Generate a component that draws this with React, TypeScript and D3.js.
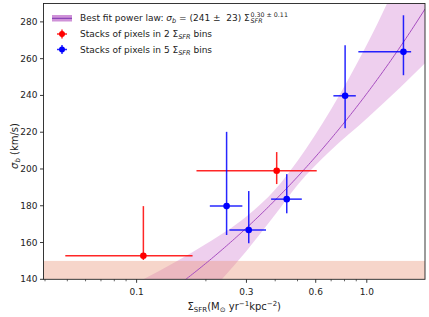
import { useLayoutEffect, useRef, useState } from "react";
import { area, curveMonotoneX, line, scaleLinear, scaleLog } from "d3";

const W = 429;
const H = 317;
const margin = { top: 3.5, right: 4, bottom: 37.7, left: 43.5 };
const width = W - margin.left - margin.right;
const height = H - margin.top - margin.bottom;
const font = "DejaVu Sans";

// stacks in 2 bins (red)
const redX = [0.107, 0.406];
const redY = [152.8, 199.0];
const redXLo = [0.049, 0.182];
const redXHi = [0.175, 0.606];
const redYLo = [150.5, 191.8];
const redYHi = [179.8, 209.2];

// stacks in 5 bins (blue)
const blueX = [0.246, 0.307, 0.449, 0.805, 1.443];
const blueY = [179.8, 166.8, 183.6, 239.8, 263.7];
const blueXLo = [0.208, 0.253, 0.384, 0.716, 0.919];
const blueXHi = [0.288, 0.365, 0.522, 0.896, 1.558];
const blueYLo = [164.1, 159.6, 175.9, 222.1, 251.0];
const blueYHi = [220.2, 188.0, 197.2, 267.3, 283.6];

// best fit sigma_b = A * S^b
const fitA = 241;
const fitB = 0.3;

// uncertainty band
const bandX = [0.1, 0.15, 0.2, 0.3, 0.4, 0.5, 0.7, 1.0, 1.4, 1.8];
const bandLo = [97.5, 115.9, 130.8, 155.4, 175.2, 191.3, 210.3, 227.5, 244.5, 257.8];
const bandHi = [138.1, 149.9, 159.2, 174.2, 188.9, 204.4, 232.5, 267.5, 305.9, 338];

// shaded floor
const floorLo = 140;
const floorHi = 150;

const xDomain = [0.0394, 1.79];
const yDomain = [140, 290];
const yTicks = [140, 160, 180, 200, 220, 240, 260, 280];
const xTicks = [0.1, 0.3, 0.6, 1.0];
const xTickLabels = ["0.1", "0.3", "0.6", "1.0"];

function FitLegendText({ x, y }) {
  const ref = useRef<SVGTextElement>(null);
  const [endX, setEndX] = useState<number | null>(null);

  useLayoutEffect(() => {
    if (ref.current) {
      const b = ref.current.getBBox();
      setEndX(b.x + b.width);
    }
  }, []);

  return (
    <g fontFamily={font} fontSize={9} fill="#222">
      <text ref={ref} x={x} y={y} style={{ whiteSpace: "pre" }}>
        {"Best fit power law: "}
        <tspan fontStyle="italic">σ</tspan>
        <tspan fontStyle="italic" fontSize={6.5} dy={2}>b</tspan>
        <tspan dy={-2}>{" = (241 ±  23) Σ"}</tspan>
      </text>
      {endX !== null && (
        <>
          <text x={endX + 0.5} y={y + 2} fontSize={6.3} fontStyle="italic">SFR</text>
          <text x={endX + 0.5} y={y - 4} fontSize={6.3}>0.30 ± 0.11</text>
        </>
      )}
    </g>
  );
}

function ErrorBars({ xs, ys, xLo, xHi, yLo, yHi, color, sx, sy }) {
  return (
    <g>
      {xs.map((v, i) => (
        <g key={i}>
          <line x1={sx(xLo[i])} x2={sx(xHi[i])} y1={sy(ys[i])} y2={sy(ys[i])} stroke={color} strokeWidth={1.5} strokeOpacity={0.85} />
          <line x1={sx(v)} x2={sx(v)} y1={sy(yLo[i])} y2={sy(yHi[i])} stroke={color} strokeWidth={1.5} strokeOpacity={0.85} />
          <circle cx={sx(v)} cy={sy(ys[i])} r={3.3} fill={color} />
        </g>
      ))}
    </g>
  );
}

export default function App() {
  const sx = scaleLog().domain(xDomain).range([0, width]);
  const sy = scaleLinear().domain(yDomain).range([height, 0]);

  const fitXs: number[] = [];
  const n = 200;
  for (let i = 0; i <= n; i++) {
    fitXs.push(sx.invert((width * i) / n));
  }
  const fitPath = line<number>()
    .x((d) => sx(d))
    .y((d) => sy(fitA * Math.pow(d, fitB)))(fitXs);

  const bandPath = area<number>()
    .x((d) => sx(bandX[d]))
    .y0((d) => sy(bandLo[d]))
    .y1((d) => sy(bandHi[d]))
    .curve(curveMonotoneX)(bandX.map((_, i) => i));

  const minor: number[] = [];
  [0.01, 0.1, 1].forEach((dec) => {
    for (let k = 1; k <= 9; k++) {
      const v = +(k * dec).toFixed(3);
      if (v >= xDomain[0] && v <= xDomain[1] && !xTicks.includes(v)) minor.push(v);
    }
  });

  return (
    <svg width={W} height={H} style={{ position: "absolute", left: 0, top: 0 }}>
      <rect width={W} height={H} fill="white" />
      <defs>
        <clipPath id="plot">
          <rect x={0} y={0} width={width} height={height} />
        </clipPath>
      </defs>
      <g transform={`translate(${margin.left},${margin.top})`}>
        <g clipPath="url(#plot)">
          <path d={bandPath} fill="#dda0dd" fillOpacity={0.5} />
          <rect x={0} width={width} y={sy(floorHi)} height={sy(floorLo) - sy(floorHi)} fill="#e9967a" fillOpacity={0.4} />
          <path d={fitPath} fill="none" stroke="#a64dbf" strokeWidth={1} />
        </g>
        <ErrorBars xs={redX} ys={redY} xLo={redXLo} xHi={redXHi} yLo={redYLo} yHi={redYHi} color="red" sx={sx} sy={sy} />
        <ErrorBars xs={blueX} ys={blueY} xLo={blueXLo} xHi={blueXHi} yLo={blueYLo} yHi={blueYHi} color="blue" sx={sx} sy={sy} />

        <rect x={0} y={0} width={width} height={height} fill="none" stroke="#222" strokeWidth={0.9} />

        {yTicks.map((t) => (
          <g key={t} transform={`translate(0,${sy(t)})`}>
            <line x1={-3.5} x2={0} stroke="#222" strokeWidth={0.9} />
            <text x={-6} dy="0.33em" textAnchor="end" fontFamily={font} fontSize={9} fill="#222">{t}</text>
          </g>
        ))}
        {xTicks.map((t, i) => (
          <g key={t} transform={`translate(${sx(t)},${height})`}>
            <line y1={0} y2={3.5} stroke="#222" strokeWidth={0.9} />
            <text y={15.7} textAnchor="middle" fontFamily={font} fontSize={9} fill="#222">{xTickLabels[i]}</text>
          </g>
        ))}
        {minor.map((t) => (
          <line key={t} x1={sx(t)} x2={sx(t)} y1={height} y2={height + 2} stroke="#222" strokeWidth={0.7} />
        ))}

        <text x={width / 2} y={height + 31} textAnchor="middle" fontFamily={font} fontSize={10} fill="#222">
          Σ<tspan fontSize={7} dy={2}>SFR</tspan>
          <tspan dy={-2}>(M</tspan>
          <tspan fontSize={7} dy={2}>⊙</tspan>
          <tspan dy={-2}> yr</tspan>
          <tspan fontSize={7} dy={-4}>−1</tspan>
          <tspan dy={4}>kpc</tspan>
          <tspan fontSize={7} dy={-4}>−2</tspan>
          <tspan dy={4}>)</tspan>
        </text>
      </g>

      <text transform={`translate(18,146) rotate(-90)`} textAnchor="middle" fontFamily={font} fontSize={10} fill="#222">
        <tspan fontStyle="italic">σ</tspan>
        <tspan fontStyle="italic" fontSize={7} dy={2}>b</tspan>
        <tspan dy={-2}> (km/s)</tspan>
      </text>

      {/* legend */}
      <rect x={52} y={15} width={20} height={6.5} fill="#c77fd1" fillOpacity={0.85} />
      <line x1={52} x2={72} y1={18.3} y2={18.3} stroke="#7a35b0" strokeWidth={1} />
      <FitLegendText x={80} y={21} />

      <line x1={57} x2={67} y1={34} y2={34} stroke="red" strokeWidth={1.5} strokeOpacity={0.85} />
      <line x1={62} x2={62} y1={29.5} y2={38.5} stroke="red" strokeWidth={1.5} strokeOpacity={0.85} />
      <circle cx={62} cy={34} r={3} fill="red" />
      <text x={80} y={37} fontFamily={font} fontSize={9} fill="#222">
        Stacks of pixels in 2 Σ<tspan fontSize={6.5} fontStyle="italic" dy={2}>SFR</tspan>
        <tspan dy={-2}> bins</tspan>
      </text>

      <line x1={57} x2={67} y1={49.5} y2={49.5} stroke="blue" strokeWidth={1.5} strokeOpacity={0.85} />
      <line x1={62} x2={62} y1={45} y2={54} stroke="blue" strokeWidth={1.5} strokeOpacity={0.85} />
      <circle cx={62} cy={49.5} r={3} fill="blue" />
      <text x={80} y={52.6} fontFamily={font} fontSize={9} fill="#222">
        Stacks of pixels in 5 Σ<tspan fontSize={6.5} fontStyle="italic" dy={2}>SFR</tspan>
        <tspan dy={-2}> bins</tspan>
      </text>
    </svg>
  );
}
